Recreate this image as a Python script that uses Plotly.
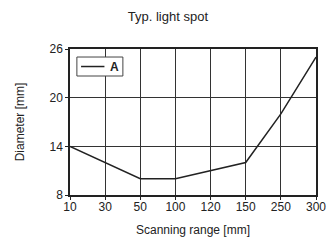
import plotly.graph_objects as go

categories = ["10", "30", "50", "100", "120", "150", "250", "300"]
x_vals = ["10", "50", "100", "150", "250", "300"]
diameter = [14, 10, 10, 12, 18, 25]
y_ticks = [8, 14, 20, 26]
series_name = "A"

font_family = "Liberation Sans Narrow, Liberation Sans, Arial, sans-serif"
ink = "#222222"

# page body has an 8px margin, so the figure is sized/offset to compensate
fig = go.Figure()
fig.add_trace(go.Scatter(
    x=x_vals, y=diameter, mode="lines", name=series_name,
    line=dict(color=ink, width=1.5), showlegend=False,
))

# compact legend box drawn in paper coordinates (decoration only)
fig.add_shape(type="rect", xref="paper", yref="paper",
              x0=0.028, x1=0.215, y0=0.815, y1=0.945,
              line=dict(color="#444444", width=1), fillcolor="white", layer="above")
fig.add_shape(type="line", xref="paper", yref="paper",
              x0=0.045, x1=0.14, y0=0.88, y1=0.88,
              line=dict(color=ink, width=1.5), layer="above")
fig.add_annotation(text="<b>" + series_name + "</b>", xref="paper", yref="paper",
                   x=0.18, y=0.88, xanchor="center", yanchor="middle",
                   showarrow=False, font=dict(size=12, color=ink))

fig.update_layout(
    width=327, height=237,
    margin=dict(l=62, r=19, t=41, b=50, autoexpand=False),
    paper_bgcolor="white", plot_bgcolor="white",
    font=dict(family=font_family, size=12, color=ink),
    title=dict(text="Typ. light spot", x=0.489, xanchor="center", y=0.966, yanchor="middle",
               font=dict(size=13)),
    showlegend=False,
)
fig.update_xaxes(
    type="category", categoryorder="array", categoryarray=categories,
    range=[0, len(categories) - 1], automargin=False,
    showgrid=True, gridcolor="#333333", gridwidth=1,
    showline=True, linecolor=ink, linewidth=1.5, mirror=True,
    ticks="outside", ticklen=3, tickcolor=ink,
    tickfont=dict(size=12), ticklabelstandoff=-3,
    title=dict(text="Scanning range [mm]", standoff=12, font=dict(size=12)),
    zeroline=False,
)
fig.update_yaxes(
    range=[8, 26], tickvals=y_ticks, automargin=False,
    showgrid=True, gridcolor="#333333", gridwidth=1,
    showline=True, linecolor=ink, linewidth=1.5, mirror=True,
    ticks="outside", ticklen=3, tickcolor=ink,
    tickfont=dict(size=12),
    title=dict(text="Diameter [mm]", standoff=22, font=dict(size=12)),
    zeroline=False,
)

fig.write_html("out.html")
